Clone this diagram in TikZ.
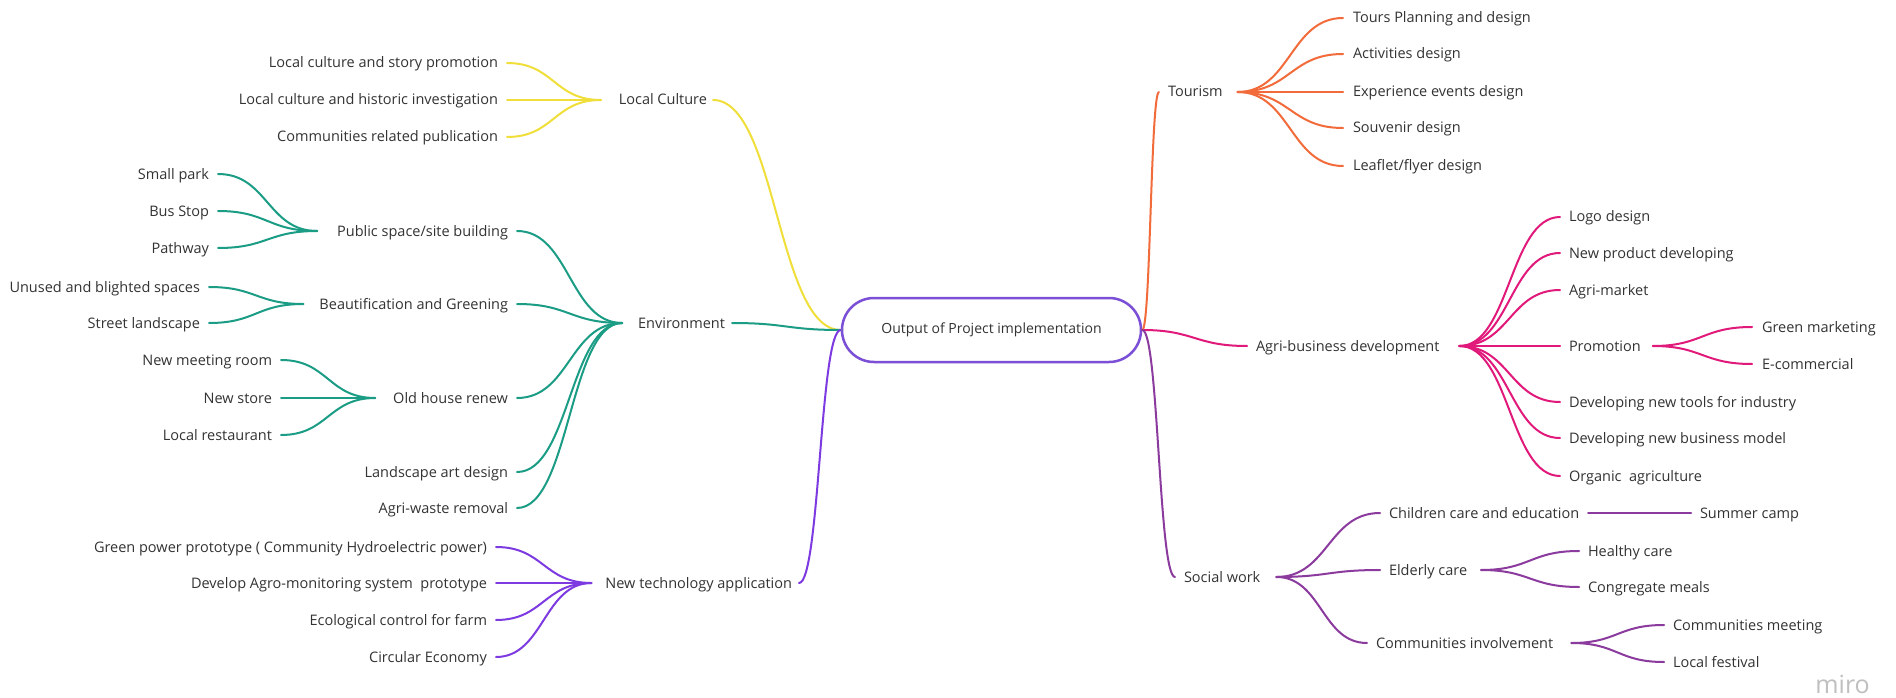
\documentclass[tikz,border=0pt]{standalone}
\usepackage{fontspec}
\setmainfont{Open Sans}
\usetikzlibrary{calc,shapes.misc}
\definecolor{yelc}{HTML}{F0DF3A}
\definecolor{tealc}{HTML}{1B9C85}
\definecolor{ntc}{HTML}{7C3AE0}
\definecolor{orc}{HTML}{F26B3A}
\definecolor{pkc}{HTML}{E0197A}
\definecolor{swc}{HTML}{8B3A9E}
\definecolor{ctrc}{HTML}{7B4FD6}
\definecolor{txtc}{HTML}{333333}
\newcommand{\lblfont}{\fontsize{14.5pt}{16pt}\selectfont}
\tikzset{
  lbl/.style={font=\lblfont, text=txtc, inner sep=0pt, outer sep=0pt, text height=10pt, text depth=0pt},
  br/.style={line width=2pt, line cap=round},
  curv/.style={to path={let \p1=(\tikztostart), \p2=(\tikztotarget) in .. controls ({(\x1+\x2)/2},\y1) and ({(\x1+\x2)/2},\y2) .. (\tikztotarget)}}
}
\begin{document}
\begin{tikzpicture}[x=1pt,y=-1pt]
\useasboundingbox[fill=white] (0,0) rectangle (1896,698);
% centre
\node[rounded rectangle, draw=ctrc, line width=2.5pt, minimum width=299pt, minimum height=64pt, font=\fontsize{14pt}{16pt}\selectfont, text=txtc, inner sep=0pt] (ctr) at (991.5,330) {Output of Project implementation};
% ---- Local culture
\node[lbl, anchor=east] (lc1) at (498,63) {Local culture and story promotion};
\node[lbl, anchor=east] (lc2) at (498,100) {Local culture and historic investigation};
\node[lbl, anchor=east] (lc3) at (498,137) {Communities related publication};
\node[lbl, anchor=east] (lc) at (707,100) {Local Culture};
% ---- Environment
\node[lbl, anchor=east] (sp) at (209,174) {Small park};
\node[lbl, anchor=east] (bs) at (209,211) {Bus Stop};
\node[lbl, anchor=east] (pw) at (209,248) {Pathway};
\node[lbl, anchor=east] (ps) at (508,231) {Public space/site building};
\node[lbl, anchor=east] (us) at (200,287) {Unused and blighted spaces};
\node[lbl, anchor=east] (sl) at (200,323) {Street landscape};
\node[lbl, anchor=east] (bg) at (508,304) {Beautification and Greening};
\node[lbl, anchor=east] (nm) at (272,360) {New meeting room};
\node[lbl, anchor=east] (ns) at (272,398) {New store};
\node[lbl, anchor=east] (lr) at (272,435) {Local restaurant};
\node[lbl, anchor=east] (oh) at (508,398) {Old house renew};
\node[lbl, anchor=east] (la) at (508,472) {Landscape art design};
\node[lbl, anchor=east] (aw) at (508,508) {Agri-waste removal};
\node[lbl, anchor=east] (env) at (725,323) {Environment};
% ---- New technology
\node[lbl, anchor=east] (gp) at (487,547) {Green power prototype ( Community Hydroelectric power)};
\node[lbl, anchor=east] (da) at (487,583) {Develop Agro-monitoring system\ \ prototype};
\node[lbl, anchor=east] (ec) at (487,620) {Ecological control for farm};
\node[lbl, anchor=east] (ce) at (487,657) {Circular Economy};
\node[lbl, anchor=east] (nt) at (792,583) {New technology application};
% ---- Tourism
\node[lbl, anchor=west] (tour) at (1168,92) {Tourism};
\node[lbl, anchor=west] (t1) at (1353,18) {Tours Planning and design};
\node[lbl, anchor=west] (t2) at (1353,54) {Activities design};
\node[lbl, anchor=west] (t3) at (1353,92) {Experience events design};
\node[lbl, anchor=west] (t4) at (1353,128) {Souvenir design};
\node[lbl, anchor=west] (t5) at (1353,166) {Leaflet/flyer design};
% ---- Agri-business
\node[lbl, anchor=west] (ab) at (1256,346) {Agri-business development};
\node[lbl, anchor=west] (a1) at (1569,217) {Logo design};
\node[lbl, anchor=west] (a2) at (1569,253) {New product developing};
\node[lbl, anchor=west] (a3) at (1569,290) {Agri-market};
\node[lbl, anchor=west] (a4) at (1569,346) {Promotion};
\node[lbl, anchor=west] (a5) at (1569,402) {Developing new tools for industry};
\node[lbl, anchor=west] (a6) at (1569,438) {Developing new business model};
\node[lbl, anchor=west] (a7) at (1569,476) {Organic\ \ agriculture};
\node[lbl, anchor=west] (p1) at (1762,327) {Green marketing};
\node[lbl, anchor=west] (p2) at (1762,364) {E-commercial};
% ---- Social work
\node[lbl, anchor=west] (sw) at (1184,577) {Social work};
\node[lbl, anchor=west] (s1) at (1389,513) {Children care and education};
\node[lbl, anchor=west] (s1a) at (1700,513) {Summer camp};
\node[lbl, anchor=west] (s2) at (1389,570) {Elderly care};
\node[lbl, anchor=west] (s2a) at (1588,551) {Healthy care};
\node[lbl, anchor=west] (s2b) at (1588,587) {Congregate meals};
\node[lbl, anchor=west] (s3) at (1376,643) {Communities involvement};
\node[lbl, anchor=west] (s3a) at (1673,625) {Communities meeting};
\node[lbl, anchor=west] (s3b) at (1673,662) {Local festival};
% watermark
\node[font=\fontsize{25pt}{27pt}\selectfont, text=black!25, inner sep=0pt, anchor=base east] (miro) at (1870,693) {miro};
% ================= connectors
% Local culture
\begin{scope}[draw=yelc, br]
\foreach \n in {lc1,lc2,lc3} \draw ([xshift=9pt]\n.east) to[curv] ([xshift=-18pt]lc.west);
\draw ([xshift=6pt]lc.east) to[curv] (ctr.west);
\end{scope}
% Environment
\begin{scope}[draw=tealc, br]
\foreach \n in {sp,bs,pw} \draw ([xshift=9pt]\n.east) to[curv] ([xshift=-20pt]ps.west);
\foreach \n in {us,sl} \draw ([xshift=9pt]\n.east) to[curv] ([xshift=-16pt]bg.west);
\foreach \n in {nm,ns,lr} \draw ([xshift=9pt]\n.east) to[curv] ([xshift=-18pt]oh.west);
\foreach \n in {ps,bg,oh,la,aw} \draw ([xshift=9pt]\n.east) to[curv] ([xshift=-16pt]env.west);
\draw ([xshift=7pt]env.east) to[curv] (ctr.west);
\end{scope}
% New technology
\begin{scope}[draw=ntc, br]
\foreach \n in {gp,da,ec,ce} \draw ([xshift=9pt]\n.east) to[curv] ([xshift=-14pt]nt.west);
\draw ([xshift=7pt]nt.east) to[curv] (ctr.west);
\end{scope}
% Tourism
\begin{scope}[draw=orc, br]
\draw (ctr.east) to[curv] ([xshift=-9pt]tour.west);
\foreach \n in {t1,t2,t3,t4,t5} \draw ([xshift=15pt]tour.east) to[curv] ([xshift=-10pt]\n.west);
\end{scope}
% Agri-business
\begin{scope}[draw=pkc, br]
\draw (ctr.east) to[curv] ([xshift=-9pt]ab.west);
\foreach \n in {a1,a2,a3,a4,a5,a6,a7} \draw ([xshift=20pt]ab.east) to[curv] ([xshift=-9pt]\n.west);
\foreach \n in {p1,p2} \draw ([xshift=12pt]a4.east) to[curv] ([xshift=-10pt]\n.west);
\end{scope}
% Social work
\begin{scope}[draw=swc, br]
\draw (ctr.east) to[curv] ([xshift=-9pt]sw.west);
\foreach \n in {s1,s2,s3} \draw ([xshift=16pt]sw.east) to[curv] ([xshift=-9pt]\n.west);
\draw ([xshift=9pt]s1.east) -- ([xshift=-9pt]s1a.west);
\foreach \n in {s2a,s2b} \draw ([xshift=14pt]s2.east) to[curv] ([xshift=-9pt]\n.west);
\foreach \n in {s3a,s3b} \draw ([xshift=18pt]s3.east) to[curv] ([xshift=-9pt]\n.west);
\end{scope}
\end{tikzpicture}
\end{document}
